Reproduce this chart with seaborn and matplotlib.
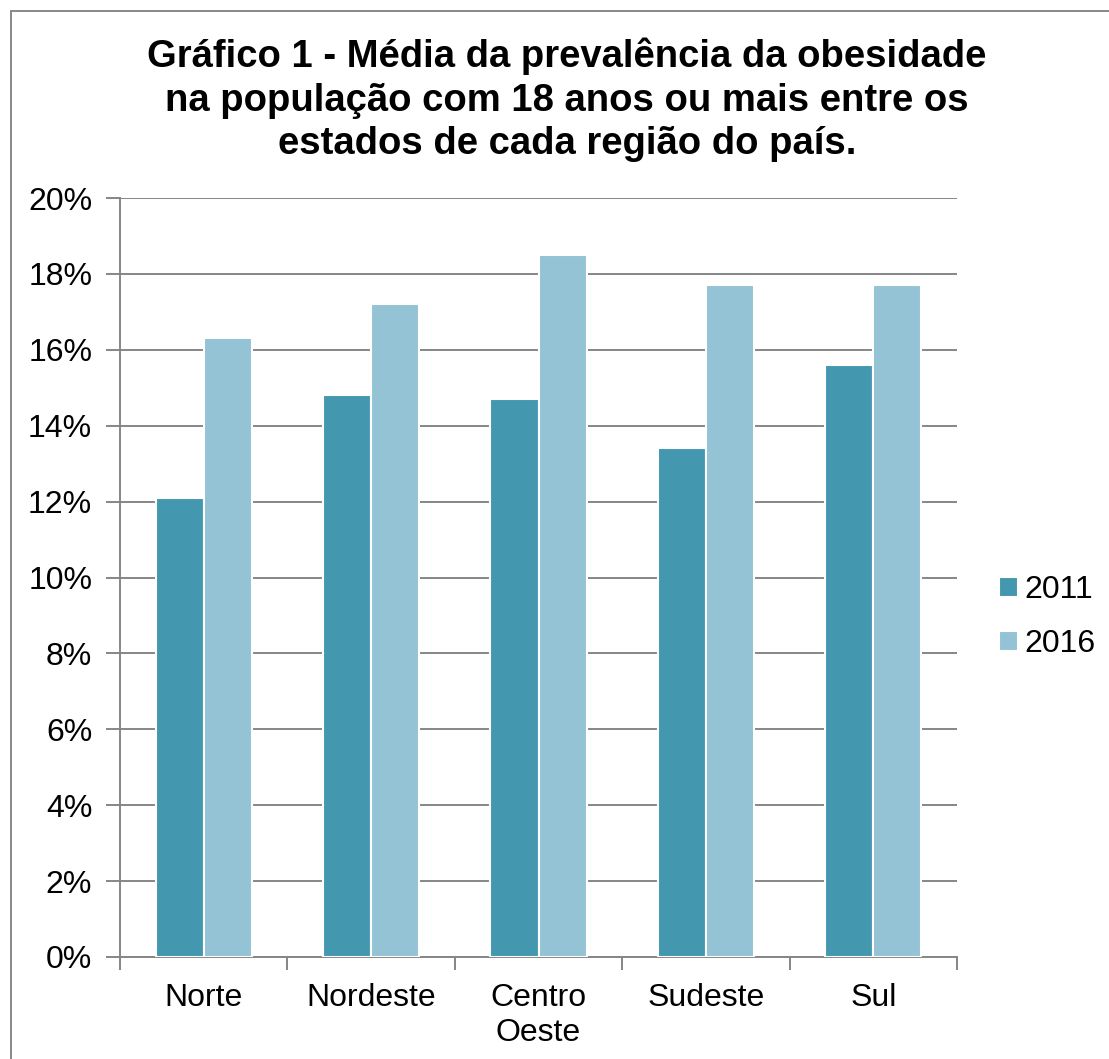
import matplotlib
matplotlib.use("Agg")
import matplotlib.pyplot as plt
import seaborn as sns
import pandas as pd
from matplotlib.ticker import FixedLocator, PercentFormatter
from matplotlib.lines import Line2D

regions = ["Norte", "Nordeste", "Centro\nOeste", "Sudeste", "Sul"]
values_2011 = [12.1, 14.8, 14.7, 13.4, 15.6]
values_2016 = [16.3, 17.2, 18.5, 17.7, 17.7]
years = ["2011", "2016"]
colors = {"2011": "#4398B0", "2016": "#93C3D5"}

df = pd.DataFrame({
    "region": regions * 2,
    "year": [years[0]] * len(regions) + [years[1]] * len(regions),
    "value": values_2011 + values_2016,
})

sns.set_style("white")
plt.rcParams["font.family"] = ["Liberation Sans", "DejaVu Sans"]
plt.rcParams["text.color"] = "black"
plt.rcParams["axes.labelcolor"] = "black"
plt.rcParams["xtick.color"] = "black"
plt.rcParams["ytick.color"] = "black"

fig = plt.figure(figsize=(11.09, 10.59), dpi=100)
ax = fig.add_axes([120/1109, 1-957/1059, (957-120)/1109, (957-198)/1059])

sns.barplot(data=df, x="region", y="value", hue="year", palette=colors,
            width=0.575, edgecolor="white", linewidth=1.5, ax=ax,
            saturation=1, zorder=3)

gray = "#868686"
ax.set_ylim(0, 20)
ax.set_xlim(-0.5, len(regions) - 0.5)
ax.yaxis.set_major_locator(FixedLocator(list(range(0, 21, 2))))
ax.yaxis.set_major_formatter(PercentFormatter(decimals=0))
ax.grid(axis="y", color=gray, linewidth=1.4, zorder=0)
ax.set_axisbelow(True)
for s in ["top", "right"]:
    ax.spines[s].set_visible(False)
for s in ["left", "bottom"]:
    ax.spines[s].set_color(gray)
    ax.spines[s].set_linewidth(1.4)
ax.tick_params(axis="y", which="major", left=True, length=10, width=1.4,
               color=gray, labelsize=23, labelcolor="black", pad=10)
ax.xaxis.set_minor_locator(FixedLocator([i - 0.5 for i in range(len(regions) + 1)]))
ax.tick_params(axis="x", which="major", bottom=False, labelsize=23,
               labelcolor="black", pad=15)
ax.tick_params(axis="x", which="minor", bottom=True, length=9, width=1.4,
               color=gray)
for lbl in ax.get_xticklabels():
    lbl.set_linespacing(1.22)
ax.set_xlabel("")
ax.set_ylabel("")

leg = ax.legend(loc="center left", bbox_to_anchor=(1.035, 0.448), frameon=False,
                fontsize=23, handlelength=0.6, handleheight=0.6,
                handletextpad=0.2, labelspacing=0.75, borderaxespad=0)
for t in leg.get_texts():
    t.set_color("black")

fig.text(0.511, 1 - 100/1059, "Gráfico 1 - Média da prevalência da obesidade\n"
         "na população com 18 anos ou mais entre os\n"
         "estados de cada região do país.",
         ha="center", va="center", fontsize=27.5, fontweight="bold",
         linespacing=1.27, color="black")

fig.add_artist(Line2D([11/1109, 11/1109], [0, 1-11/1059], color="#888888",
                      linewidth=1.4, transform=fig.transFigure))
fig.add_artist(Line2D([11/1109, 1], [1-11/1059, 1-11/1059], color="#888888",
                      linewidth=1.4, transform=fig.transFigure))

fig.savefig("out.png", dpi=100, facecolor="white")
